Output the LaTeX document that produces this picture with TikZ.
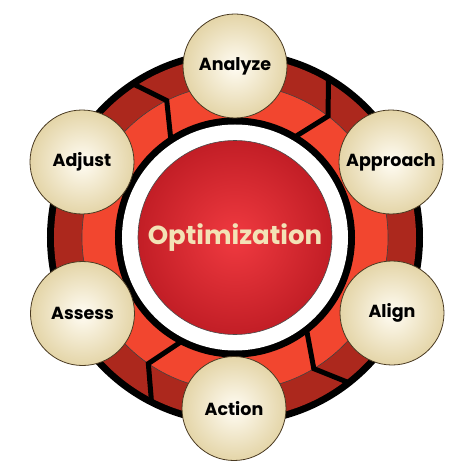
\documentclass[tikz,border=0pt]{standalone}
\usepackage{fontspec}
\setmainfont{Poppins}
\definecolor{darkband}{HTML}{AC281D}
\definecolor{lightband}{HTML}{F2462F}
\definecolor{coreinner}{HTML}{F03A40}
\definecolor{coreouter}{HTML}{C21E26}
\definecolor{creamtext}{HTML}{F3E2B6}
\definecolor{creamin}{HTML}{FFFCF3}
\definecolor{creamout}{HTML}{E4D5A8}
\definecolor{creamedge}{HTML}{4A3A22}
\tikzset{
  stage/.style={circle, minimum size=104pt, inner sep=0pt, draw=creamedge, line width=0.8pt,
    shading=radial, inner color=creamin, outer color=creamout,
    font=\fontsize{17.5}{20}\selectfont\bfseries, text=black},
  chev/.style={line width=5pt, black, line join=miter},
}
\begin{document}
\begin{tikzpicture}[x=1pt,y=1pt]
\useasboundingbox (-235,-236.5) rectangle (239,237.5);
% ring
\fill[black] (0,0) circle (188);
\fill[darkband] (0,0) circle (181);
\fill[lightband] (0,0) circle (153);
\draw[line width=0.6pt, black!75] (0,0) circle (153);
\fill[black] (0,0) circle (120);
\fill[white] (0,0) circle (113);
% chevrons
\draw[chev] (123.5:116) -- (116.5:153) -- (123.5:184);
\draw[chev] (59.5:116) -- (52.5:153) -- (59.5:184);
\draw[chev] (-52:116) -- (-59:153) -- (-52:184);
\draw[chev] (-117:116) -- (-124.5:153) -- (-117:184);
% core
\node[circle, minimum size=194pt, inner sep=0pt, draw=black!70, line width=0.6pt,
  shading=radial, inner color=coreinner, outer color=coreouter] (core) at (0,0) {};
\node[font=\fontsize{26}{30}\selectfont\bfseries, text=creamtext, inner sep=0pt] (opt) at (core) {Optimization};
% stages
\node[stage] (analyze) at (0,171.5) {Analyze};
\node[stage] (approach) at (156,75.5) {Approach};
\node[stage] (align) at (157,-75.5) {Align};
\node[stage] (action) at (-1,-171) {Action};
\node[stage] (assess) at (-152.5,-76) {Assess};
\node[stage] (adjust) at (-153,75.5) {Adjust};
\end{tikzpicture}
\end{document}
